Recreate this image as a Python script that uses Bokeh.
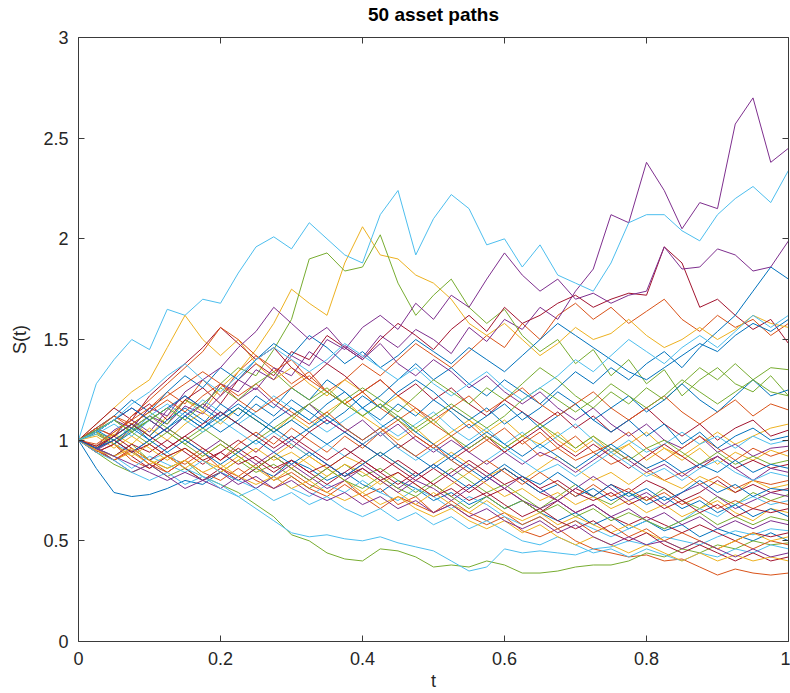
import numpy as np
from bokeh.plotting import figure
from bokeh.models import LinearAxis, Range1d, FixedTicker, CustomJSTickFormatter
from bokeh.embed import file_html
from bokeh.resources import INLINE

title_text = "50 asset paths"
x_label = "t"
y_label = "S(t)"
x_ticks = [0, 0.2, 0.4, 0.6, 0.8, 1]
y_ticks = [0, 0.5, 1, 1.5, 2, 2.5, 3]
colors = ["#0072BD", "#D95319", "#EDB120", "#7E2F8E", "#77AC30", "#4DBEEE", "#A2142F"]

# asset paths, values on an even time grid from t=0 to t=1
path_00 = [1.00, 0.86, 0.74, 0.72, 0.73, 0.76, 0.80, 0.78, 0.84, 0.80, 0.86, 0.82, 0.90, 0.86, 0.80, 0.84, 0.78, 0.74, 0.80, 0.76, 0.70, 0.74, 0.68, 0.72, 0.66, 0.70, 0.64, 0.60, 0.64, 0.58, 0.62, 0.56, 0.60, 0.55, 0.58, 0.52, 0.56, 0.53, 0.50, 0.54, 0.50]
path_01 = [1.00, 1.05, 1.12, 1.06, 1.16, 1.24, 1.18, 1.30, 1.22, 1.34, 1.42, 1.36, 1.28, 1.34, 1.24, 1.30, 1.38, 1.32, 1.40, 1.48, 1.42, 1.36, 1.44, 1.52, 1.46, 1.58, 1.50, 1.62, 1.68, 1.60, 1.66, 1.58, 1.64, 1.70, 1.60, 1.54, 1.62, 1.56, 1.60, 1.52, 1.58]
path_02 = [1.00, 0.96, 1.04, 1.10, 1.02, 1.12, 1.20, 1.14, 1.26, 1.34, 1.45, 1.58, 1.75, 1.68, 1.62, 1.88, 2.06, 1.92, 1.90, 1.82, 1.78, 1.70, 1.58, 1.52, 1.58, 1.50, 1.42, 1.48, 1.56, 1.50, 1.53, 1.60, 1.52, 1.46, 1.50, 1.56, 1.50, 1.55, 1.62, 1.58, 1.56]
path_03 = [1.00, 1.04, 0.98, 1.06, 1.12, 1.08, 1.17, 1.13, 1.22, 1.30, 1.25, 1.36, 1.32, 1.44, 1.38, 1.47, 1.41, 1.52, 1.46, 1.55, 1.50, 1.43, 1.56, 1.49, 1.60, 1.55, 1.66, 1.60, 1.74, 1.85, 2.12, 2.08, 2.38, 2.24, 2.05, 2.18, 2.15, 2.57, 2.70, 2.38, 2.45]
path_04 = [1.00, 1.04, 0.98, 1.08, 1.14, 1.08, 1.20, 1.16, 1.28, 1.36, 1.32, 1.45, 1.60, 1.90, 1.93, 1.84, 1.86, 2.02, 1.78, 1.62, 1.72, 1.80, 1.66, 1.58, 1.65, 1.52, 1.44, 1.50, 1.38, 1.45, 1.32, 1.40, 1.28, 1.35, 1.22, 1.30, 1.36, 1.28, 1.24, 1.32, 1.22]
path_05 = [1.00, 1.28, 1.40, 1.50, 1.45, 1.65, 1.62, 1.70, 1.68, 1.83, 1.96, 2.01, 1.95, 2.08, 2.00, 1.92, 1.88, 2.12, 2.24, 1.92, 2.10, 2.22, 2.15, 1.97, 2.00, 1.86, 1.97, 1.82, 1.78, 1.74, 1.88, 2.08, 2.12, 2.12, 2.04, 1.99, 2.12, 2.20, 2.26, 2.18, 2.34]
path_06 = [1.00, 1.06, 1.02, 1.12, 1.18, 1.10, 1.20, 1.26, 1.18, 1.30, 1.38, 1.32, 1.44, 1.40, 1.52, 1.46, 1.40, 1.50, 1.58, 1.52, 1.45, 1.55, 1.62, 1.54, 1.66, 1.58, 1.62, 1.68, 1.72, 1.66, 1.70, 1.73, 1.72, 1.96, 1.88, 1.66, 1.70, 1.62, 1.55, 1.60, 1.48]
path_07 = [1.00, 0.95, 1.02, 1.08, 1.00, 1.06, 1.14, 1.08, 1.18, 1.12, 1.22, 1.16, 1.26, 1.20, 1.30, 1.24, 1.16, 1.22, 1.30, 1.38, 1.30, 1.36, 1.28, 1.22, 1.30, 1.24, 1.18, 1.26, 1.34, 1.28, 1.36, 1.30, 1.38, 1.44, 1.36, 1.46, 1.54, 1.62, 1.74, 1.86, 1.80]
path_08 = [1.00, 0.94, 0.98, 0.90, 0.86, 0.92, 0.88, 0.94, 0.86, 0.82, 0.88, 0.80, 0.84, 0.78, 0.74, 0.80, 0.72, 0.76, 0.68, 0.72, 0.64, 0.68, 0.62, 0.58, 0.62, 0.55, 0.52, 0.56, 0.50, 0.46, 0.44, 0.42, 0.43, 0.40, 0.41, 0.37, 0.33, 0.36, 0.34, 0.33, 0.34]
path_09 = [1.00, 1.08, 1.16, 1.24, 1.30, 1.46, 1.62, 1.50, 1.42, 1.50, 1.38, 1.30, 1.36, 1.28, 1.22, 1.30, 1.24, 1.16, 1.22, 1.14, 1.08, 1.16, 1.10, 1.04, 1.10, 1.02, 0.98, 1.04, 0.96, 1.02, 0.94, 0.98, 0.90, 0.96, 0.92, 0.98, 1.04, 0.98, 1.02, 1.06, 1.08]
path_10 = [1.00, 0.97, 1.05, 1.10, 1.04, 1.15, 1.22, 1.16, 1.28, 1.24, 1.35, 1.30, 1.42, 1.37, 1.50, 1.45, 1.56, 1.62, 1.55, 1.68, 1.60, 1.72, 1.66, 1.80, 1.93, 1.82, 1.74, 1.80, 1.70, 1.73, 1.68, 1.72, 1.74, 1.96, 1.85, 1.86, 1.95, 1.92, 1.84, 1.86, 1.99]
path_11 = [1.00, 0.96, 0.92, 0.98, 0.90, 0.86, 0.90, 0.82, 0.78, 0.74, 0.68, 0.62, 0.53, 0.50, 0.44, 0.41, 0.40, 0.46, 0.45, 0.42, 0.37, 0.38, 0.37, 0.40, 0.38, 0.34, 0.34, 0.35, 0.37, 0.38, 0.38, 0.40, 0.44, 0.42, 0.46, 0.44, 0.48, 0.46, 0.50, 0.48, 0.49]
path_12 = [1.00, 1.04, 0.98, 0.94, 0.90, 0.94, 0.86, 0.82, 0.78, 0.72, 0.66, 0.60, 0.54, 0.52, 0.53, 0.51, 0.50, 0.52, 0.49, 0.47, 0.45, 0.40, 0.35, 0.37, 0.46, 0.44, 0.45, 0.44, 0.43, 0.46, 0.47, 0.50, 0.48, 0.52, 0.50, 0.48, 0.52, 0.55, 0.53, 0.56, 0.55]
path_13 = [1.00, 1.08, 1.16, 1.10, 1.22, 1.30, 1.38, 1.46, 1.56, 1.48, 1.40, 1.46, 1.36, 1.30, 1.38, 1.32, 1.24, 1.30, 1.22, 1.28, 1.20, 1.26, 1.18, 1.12, 1.20, 1.14, 1.08, 1.14, 1.06, 1.12, 1.04, 1.10, 1.16, 1.08, 1.02, 1.08, 1.00, 1.06, 1.10, 1.02, 1.05]
path_14 = [1.00, 1.06, 1.12, 1.20, 1.14, 1.24, 1.32, 1.26, 1.36, 1.30, 1.40, 1.48, 1.42, 1.52, 1.46, 1.38, 1.44, 1.36, 1.42, 1.50, 1.44, 1.38, 1.46, 1.40, 1.34, 1.42, 1.50, 1.58, 1.52, 1.46, 1.40, 1.34, 1.30, 1.36, 1.42, 1.48, 1.44, 1.52, 1.58, 1.54, 1.60]
path_15 = [1.00, 1.06, 1.02, 1.12, 1.20, 1.28, 1.36, 1.44, 1.56, 1.50, 1.42, 1.34, 1.40, 1.30, 1.24, 1.18, 1.24, 1.16, 1.10, 1.16, 1.08, 1.02, 1.08, 1.00, 0.94, 1.00, 0.92, 0.96, 0.90, 0.94, 0.88, 0.92, 0.86, 0.80, 0.84, 0.78, 0.82, 0.76, 0.80, 0.78, 0.80]
path_16 = [1.00, 0.97, 1.03, 0.98, 1.06, 1.00, 1.08, 1.14, 1.08, 1.16, 1.10, 1.04, 1.12, 1.06, 1.14, 1.20, 1.12, 1.06, 1.00, 1.06, 0.98, 1.04, 1.10, 1.02, 0.96, 1.02, 1.08, 1.00, 0.94, 1.00, 0.92, 0.98, 1.04, 0.96, 0.90, 0.96, 0.88, 0.94, 0.90, 0.95, 0.92]
path_17 = [1.00, 1.04, 1.10, 1.06, 1.16, 1.12, 1.24, 1.30, 1.36, 1.46, 1.54, 1.66, 1.58, 1.50, 1.56, 1.46, 1.40, 1.48, 1.38, 1.32, 1.40, 1.34, 1.26, 1.32, 1.24, 1.18, 1.24, 1.16, 1.10, 1.16, 1.08, 1.02, 1.08, 1.00, 0.96, 1.02, 0.94, 0.98, 0.92, 0.96, 0.97]
path_18 = [1.00, 1.03, 0.98, 1.05, 1.10, 1.04, 0.98, 1.04, 1.10, 1.16, 1.10, 1.04, 1.10, 1.18, 1.12, 1.20, 1.26, 1.20, 1.14, 1.22, 1.30, 1.24, 1.18, 1.26, 1.20, 1.28, 1.36, 1.30, 1.22, 1.16, 1.24, 1.18, 1.26, 1.20, 1.28, 1.36, 1.30, 1.38, 1.30, 1.36, 1.35]
path_19 = [1.00, 1.05, 1.10, 1.04, 1.12, 1.18, 1.12, 1.20, 1.14, 1.08, 1.14, 1.22, 1.16, 1.10, 1.04, 1.10, 1.16, 1.08, 1.02, 1.08, 1.14, 1.06, 1.00, 1.06, 0.98, 1.04, 0.96, 1.02, 1.08, 1.00, 0.94, 1.00, 0.94, 0.98, 1.04, 0.98, 1.02, 0.96, 1.02, 0.98, 1.00]
path_20 = [1.00, 0.96, 0.92, 0.98, 0.94, 1.00, 0.94, 0.88, 0.94, 1.00, 0.94, 1.02, 0.96, 1.04, 1.10, 1.04, 0.98, 1.04, 0.96, 1.02, 0.96, 0.90, 0.96, 1.02, 0.94, 1.00, 1.06, 0.98, 0.92, 0.98, 0.92, 0.86, 0.92, 0.98, 0.92, 0.86, 0.92, 0.86, 0.90, 0.86, 0.88]
path_21 = [1.00, 1.04, 0.98, 1.04, 1.10, 1.04, 1.12, 1.06, 1.14, 1.08, 1.02, 1.10, 1.16, 1.10, 1.18, 1.24, 1.16, 1.10, 1.18, 1.12, 1.20, 1.14, 1.06, 1.12, 1.18, 1.10, 1.16, 1.24, 1.18, 1.10, 1.16, 1.22, 1.14, 1.20, 1.28, 1.20, 1.14, 1.22, 1.30, 1.22, 1.25]
path_22 = [1.00, 0.95, 0.90, 0.96, 0.90, 0.84, 0.90, 0.96, 0.90, 0.98, 1.04, 0.98, 1.06, 1.00, 0.94, 1.02, 0.96, 1.04, 1.10, 1.02, 0.96, 1.02, 0.94, 1.00, 1.06, 0.98, 1.04, 0.96, 1.02, 0.94, 0.98, 1.04, 0.96, 0.90, 0.96, 1.02, 0.96, 0.90, 0.96, 0.92, 0.95]
path_23 = [1.00, 1.02, 0.96, 1.02, 0.96, 0.90, 0.96, 0.90, 0.86, 0.92, 0.86, 0.92, 0.98, 0.92, 0.86, 0.92, 0.88, 0.94, 0.88, 0.82, 0.88, 0.94, 0.88, 0.82, 0.86, 0.80, 0.86, 0.92, 0.86, 0.80, 0.84, 0.78, 0.84, 0.80, 0.76, 0.82, 0.78, 0.74, 0.80, 0.76, 0.78]
path_24 = [1.00, 1.04, 1.10, 1.16, 1.10, 1.04, 1.12, 1.18, 1.12, 1.20, 1.26, 1.18, 1.12, 1.18, 1.10, 1.04, 1.10, 1.02, 1.08, 1.00, 0.94, 1.00, 0.94, 0.88, 0.94, 0.88, 0.94, 0.90, 0.84, 0.90, 0.96, 0.90, 0.84, 0.88, 0.82, 0.88, 0.92, 0.86, 0.80, 0.86, 0.84]
path_25 = [1.00, 0.94, 0.88, 0.84, 0.88, 0.82, 0.86, 0.80, 0.84, 0.90, 0.84, 0.88, 0.82, 0.76, 0.82, 0.88, 0.82, 0.86, 0.80, 0.74, 0.80, 0.86, 0.80, 0.74, 0.78, 0.72, 0.66, 0.72, 0.78, 0.72, 0.68, 0.74, 0.70, 0.76, 0.70, 0.66, 0.72, 0.68, 0.74, 0.70, 0.73]
path_26 = [1.00, 1.03, 1.08, 1.02, 1.10, 1.16, 1.10, 1.04, 1.10, 1.04, 0.98, 1.04, 0.98, 0.92, 0.98, 0.92, 0.98, 1.04, 0.96, 0.90, 0.96, 0.90, 0.84, 0.90, 0.96, 0.90, 0.84, 0.88, 0.82, 0.88, 0.94, 0.88, 0.82, 0.86, 0.80, 0.86, 0.90, 0.84, 0.80, 0.84, 0.82]
path_27 = [1.00, 0.94, 0.98, 0.92, 0.86, 0.92, 0.86, 0.80, 0.86, 0.80, 0.86, 0.92, 0.86, 0.80, 0.86, 0.92, 0.98, 0.92, 0.86, 0.80, 0.86, 0.80, 0.74, 0.80, 0.86, 0.80, 0.74, 0.70, 0.76, 0.72, 0.78, 0.74, 0.80, 0.76, 0.70, 0.74, 0.80, 0.74, 0.78, 0.74, 0.76]
path_28 = [1.00, 0.96, 1.02, 1.08, 1.02, 1.10, 1.16, 1.10, 1.04, 1.10, 1.18, 1.12, 1.20, 1.14, 1.08, 1.14, 1.22, 1.16, 1.24, 1.30, 1.24, 1.16, 1.10, 1.16, 1.08, 1.14, 1.06, 1.12, 1.18, 1.10, 1.04, 1.10, 1.02, 1.08, 0.98, 1.04, 0.96, 1.02, 1.06, 1.00, 1.02]
path_29 = [1.00, 1.06, 1.12, 1.08, 1.14, 1.20, 1.14, 1.22, 1.28, 1.20, 1.14, 1.20, 1.26, 1.32, 1.24, 1.18, 1.24, 1.30, 1.22, 1.16, 1.10, 1.16, 1.22, 1.14, 1.20, 1.26, 1.18, 1.12, 1.18, 1.24, 1.16, 1.10, 1.16, 1.22, 1.14, 1.08, 1.14, 1.20, 1.12, 1.18, 1.15]
path_30 = [1.00, 0.96, 0.90, 0.94, 0.88, 0.92, 0.96, 0.90, 0.84, 0.90, 0.96, 0.90, 0.94, 0.88, 0.82, 0.88, 0.84, 0.78, 0.84, 0.78, 0.72, 0.78, 0.84, 0.78, 0.72, 0.76, 0.70, 0.74, 0.68, 0.72, 0.66, 0.70, 0.64, 0.68, 0.62, 0.66, 0.70, 0.64, 0.60, 0.66, 0.64]
path_31 = [1.00, 0.95, 1.00, 0.94, 1.00, 1.06, 1.00, 0.94, 1.00, 0.94, 0.88, 0.94, 1.00, 0.94, 0.88, 0.82, 0.88, 0.82, 0.76, 0.82, 0.88, 0.82, 0.88, 0.82, 0.76, 0.82, 0.76, 0.70, 0.76, 0.82, 0.76, 0.70, 0.74, 0.68, 0.74, 0.78, 0.72, 0.66, 0.70, 0.74, 0.72]
path_32 = [1.00, 1.04, 1.00, 1.06, 1.12, 1.06, 1.00, 1.06, 1.00, 0.94, 1.00, 1.06, 1.12, 1.18, 1.24, 1.18, 1.12, 1.18, 1.10, 1.04, 1.10, 1.02, 0.96, 1.02, 0.96, 1.02, 1.08, 1.02, 0.96, 1.02, 0.96, 0.90, 0.96, 1.00, 0.94, 0.88, 0.94, 0.88, 0.92, 0.88, 0.90]
path_33 = [1.00, 0.96, 0.92, 0.86, 0.92, 0.88, 0.84, 0.90, 0.84, 0.80, 0.76, 0.82, 0.76, 0.72, 0.78, 0.74, 0.80, 0.74, 0.70, 0.76, 0.72, 0.66, 0.72, 0.68, 0.62, 0.58, 0.62, 0.56, 0.60, 0.56, 0.52, 0.56, 0.60, 0.56, 0.60, 0.66, 0.62, 0.68, 0.72, 0.68, 0.70]
path_34 = [1.00, 0.96, 1.02, 0.96, 0.90, 0.96, 1.02, 0.96, 0.90, 0.96, 0.90, 0.84, 0.90, 0.84, 0.78, 0.84, 0.90, 0.84, 0.78, 0.84, 0.78, 0.72, 0.78, 0.72, 0.76, 0.70, 0.64, 0.70, 0.64, 0.68, 0.62, 0.58, 0.62, 0.58, 0.54, 0.58, 0.54, 0.50, 0.54, 0.52, 0.54]
path_35 = [1.00, 1.05, 1.00, 0.94, 1.00, 1.06, 1.12, 1.06, 1.12, 1.18, 1.12, 1.06, 1.00, 1.06, 1.12, 1.06, 1.00, 1.06, 1.12, 1.04, 0.98, 0.92, 0.98, 1.04, 0.98, 0.92, 0.98, 0.92, 0.86, 0.92, 0.98, 0.92, 0.86, 0.90, 0.84, 0.88, 0.84, 0.90, 0.84, 0.88, 0.86]
path_36 = [1.00, 0.95, 0.90, 0.95, 0.88, 0.84, 0.90, 0.84, 0.80, 0.86, 0.80, 0.76, 0.82, 0.76, 0.72, 0.78, 0.72, 0.66, 0.72, 0.68, 0.64, 0.70, 0.64, 0.60, 0.64, 0.58, 0.62, 0.56, 0.60, 0.54, 0.58, 0.52, 0.56, 0.50, 0.54, 0.50, 0.46, 0.50, 0.46, 0.50, 0.48]
path_37 = [1.00, 1.04, 0.98, 0.92, 0.98, 0.92, 0.86, 0.92, 0.98, 0.92, 0.86, 0.80, 0.86, 0.92, 0.86, 0.80, 0.74, 0.80, 0.74, 0.68, 0.74, 0.68, 0.64, 0.70, 0.64, 0.60, 0.64, 0.58, 0.62, 0.58, 0.54, 0.58, 0.54, 0.50, 0.46, 0.50, 0.46, 0.50, 0.54, 0.50, 0.52]
path_38 = [1.00, 0.96, 0.90, 0.84, 0.88, 0.82, 0.76, 0.80, 0.76, 0.82, 0.76, 0.82, 0.88, 0.82, 0.76, 0.80, 0.86, 0.80, 0.74, 0.80, 0.76, 0.70, 0.76, 0.82, 0.76, 0.70, 0.66, 0.70, 0.64, 0.68, 0.62, 0.66, 0.60, 0.64, 0.58, 0.62, 0.56, 0.60, 0.56, 0.60, 0.58]
path_39 = [1.00, 1.04, 1.10, 1.04, 0.98, 1.04, 0.98, 0.92, 0.98, 0.92, 0.86, 0.92, 0.86, 0.80, 0.86, 0.80, 0.76, 0.82, 0.76, 0.72, 0.78, 0.72, 0.66, 0.72, 0.66, 0.70, 0.64, 0.68, 0.62, 0.66, 0.60, 0.64, 0.60, 0.56, 0.60, 0.64, 0.58, 0.62, 0.58, 0.62, 0.60]
path_40 = [1.00, 0.94, 0.90, 0.84, 0.80, 0.84, 0.78, 0.82, 0.76, 0.72, 0.76, 0.70, 0.74, 0.68, 0.72, 0.66, 0.62, 0.66, 0.60, 0.64, 0.58, 0.62, 0.56, 0.60, 0.55, 0.50, 0.48, 0.52, 0.48, 0.44, 0.46, 0.42, 0.46, 0.43, 0.40, 0.44, 0.42, 0.46, 0.44, 0.48, 0.46]
path_41 = [1.00, 0.96, 1.00, 0.94, 0.98, 0.92, 0.96, 0.90, 0.94, 0.88, 0.92, 0.86, 0.90, 0.84, 0.88, 0.82, 0.86, 0.80, 0.84, 0.78, 0.72, 0.76, 0.70, 0.74, 0.68, 0.62, 0.66, 0.60, 0.56, 0.60, 0.54, 0.50, 0.54, 0.48, 0.44, 0.48, 0.44, 0.40, 0.44, 0.40, 0.42]
path_42 = [1.00, 1.04, 1.10, 1.16, 1.10, 1.16, 1.22, 1.16, 1.10, 1.16, 1.10, 1.04, 1.10, 1.04, 0.98, 1.04, 0.98, 0.92, 0.98, 0.92, 0.86, 0.92, 0.86, 0.80, 0.86, 0.80, 0.74, 0.78, 0.72, 0.76, 0.70, 0.74, 0.68, 0.72, 0.66, 0.70, 0.64, 0.68, 0.62, 0.66, 0.62]
path_43 = [1.00, 0.98, 1.04, 1.10, 1.16, 1.22, 1.28, 1.34, 1.28, 1.22, 1.28, 1.20, 1.14, 1.08, 1.14, 1.06, 1.00, 1.06, 0.98, 0.92, 0.98, 0.90, 0.84, 0.90, 0.84, 0.78, 0.84, 0.78, 0.72, 0.78, 0.72, 0.76, 0.70, 0.74, 0.68, 0.72, 0.66, 0.70, 0.66, 0.70, 0.68]
path_44 = [1.00, 0.95, 0.92, 0.96, 0.90, 0.86, 0.90, 0.84, 0.88, 0.82, 0.78, 0.82, 0.76, 0.80, 0.74, 0.70, 0.74, 0.68, 0.72, 0.66, 0.62, 0.66, 0.60, 0.56, 0.60, 0.54, 0.58, 0.52, 0.48, 0.52, 0.48, 0.44, 0.48, 0.44, 0.40, 0.44, 0.40, 0.43, 0.40, 0.42, 0.40]
path_45 = [1.00, 0.96, 0.92, 0.88, 0.84, 0.80, 0.84, 0.80, 0.84, 0.78, 0.82, 0.76, 0.80, 0.74, 0.70, 0.74, 0.68, 0.72, 0.66, 0.70, 0.64, 0.68, 0.62, 0.66, 0.60, 0.56, 0.60, 0.54, 0.58, 0.52, 0.48, 0.52, 0.48, 0.50, 0.46, 0.50, 0.46, 0.42, 0.46, 0.42, 0.44]
path_46 = [1.00, 1.05, 1.10, 1.04, 1.10, 1.16, 1.10, 1.18, 1.26, 1.20, 1.28, 1.34, 1.26, 1.20, 1.26, 1.18, 1.12, 1.18, 1.12, 1.06, 1.12, 1.18, 1.12, 1.06, 1.12, 1.20, 1.26, 1.20, 1.14, 1.20, 1.28, 1.22, 1.16, 1.22, 1.30, 1.24, 1.18, 1.24, 1.30, 1.24, 1.22]
path_47 = [1.00, 1.04, 1.10, 1.18, 1.24, 1.32, 1.38, 1.30, 1.24, 1.32, 1.40, 1.46, 1.40, 1.34, 1.40, 1.48, 1.42, 1.36, 1.30, 1.36, 1.28, 1.22, 1.28, 1.34, 1.26, 1.20, 1.26, 1.32, 1.40, 1.34, 1.42, 1.50, 1.44, 1.38, 1.46, 1.52, 1.46, 1.54, 1.62, 1.56, 1.62]
path_48 = [1.00, 0.97, 1.02, 1.08, 1.02, 0.96, 1.02, 1.08, 1.14, 1.08, 1.02, 0.96, 1.02, 0.96, 0.90, 0.96, 0.90, 0.84, 0.90, 0.84, 0.78, 0.84, 0.90, 0.84, 0.78, 0.82, 0.76, 0.80, 0.74, 0.70, 0.74, 0.68, 0.72, 0.66, 0.70, 0.64, 0.68, 0.62, 0.66, 0.64, 0.66]
path_49 = [1.00, 0.96, 1.00, 1.06, 1.00, 0.94, 1.00, 0.94, 0.88, 0.94, 1.00, 0.94, 0.88, 0.94, 0.88, 0.82, 0.88, 0.94, 0.88, 0.82, 0.88, 0.82, 0.76, 0.82, 0.88, 0.82, 0.78, 0.84, 0.78, 0.72, 0.78, 0.72, 0.76, 0.70, 0.74, 0.80, 0.74, 0.78, 0.72, 0.76, 0.75]

paths = [path_00, path_01, path_02, path_03, path_04, path_05, path_06, path_07, path_08, path_09,
         path_10, path_11, path_12, path_13, path_14, path_15, path_16, path_17, path_18, path_19,
         path_20, path_21, path_22, path_23, path_24, path_25, path_26, path_27, path_28, path_29,
         path_30, path_31, path_32, path_33, path_34, path_35, path_36, path_37, path_38, path_39,
         path_40, path_41, path_42, path_43, path_44, path_45, path_46, path_47, path_48, path_49]

FONT = "Liberation Sans"
AX = "#3a3a3a"

p = figure(width=790, height=693, x_range=Range1d(0, 1), y_range=Range1d(0, 3),
           output_backend="svg", toolbar_location=None,
           min_border_left=78, min_border_right=2, min_border_top=37, min_border_bottom=52)

for i, s in enumerate(paths):
    t = np.linspace(0.0, 1.0, len(s))
    p.line(t, s, line_color=colors[i % len(colors)], line_width=1)

p.title.text = title_text
p.title.align = "center"
p.title.text_font = FONT
p.title.text_font_size = "19px"
p.title.text_font_style = "bold"
p.title.text_color = "#000000"
p.title.standoff = 0

fmt = CustomJSTickFormatter(code="return tick.toString();")

def style_axis(ax, ticks, show_labels=True):
    ax.ticker = FixedTicker(ticks=ticks)
    ax.formatter = fmt
    ax.axis_line_color = AX
    ax.axis_line_width = 1
    ax.major_tick_line_color = AX
    ax.major_tick_in = 6
    ax.major_tick_out = 0
    ax.minor_tick_line_color = None
    if show_labels:
        ax.major_label_text_font = FONT
        ax.major_label_text_font_size = "18px"
        ax.major_label_text_color = "#262626"
        ax.axis_label_text_font = FONT
        ax.axis_label_text_font_size = "18px"
        ax.axis_label_text_font_style = "normal"
        ax.axis_label_text_color = "#262626"
    else:
        ax.major_label_text_font_size = "1px"
        ax.major_label_text_color = None
        ax.major_label_standoff = 0
        ax.axis_label = None

p.xaxis.axis_label = x_label
p.yaxis.axis_label = y_label
style_axis(p.xaxis[0], x_ticks)
style_axis(p.yaxis[0], y_ticks)
p.xaxis.major_label_standoff = 10
p.yaxis.major_label_standoff = 10
p.xaxis.axis_label_standoff = 3
p.yaxis.axis_label_standoff = 10

top_ax = LinearAxis()
right_ax = LinearAxis()
style_axis(top_ax, x_ticks, show_labels=False)
style_axis(right_ax, y_ticks, show_labels=False)
p.add_layout(top_ax, "above")
p.add_layout(right_ax, "right")

# invisible spacer between the frame and the title (no line, no text)
spacer = LinearAxis()
style_axis(spacer, x_ticks, show_labels=False)
spacer.axis_line_color = None
spacer.major_tick_line_color = None
spacer.major_tick_in = 0
spacer.major_tick_out = 13
p.add_layout(spacer, "above")

p.xgrid.grid_line_color = None
p.ygrid.grid_line_color = None
p.outline_line_color = None
p.background_fill_color = "white"
p.border_fill_color = "white"

open("out.html", "w").write(file_html(p, INLINE))
